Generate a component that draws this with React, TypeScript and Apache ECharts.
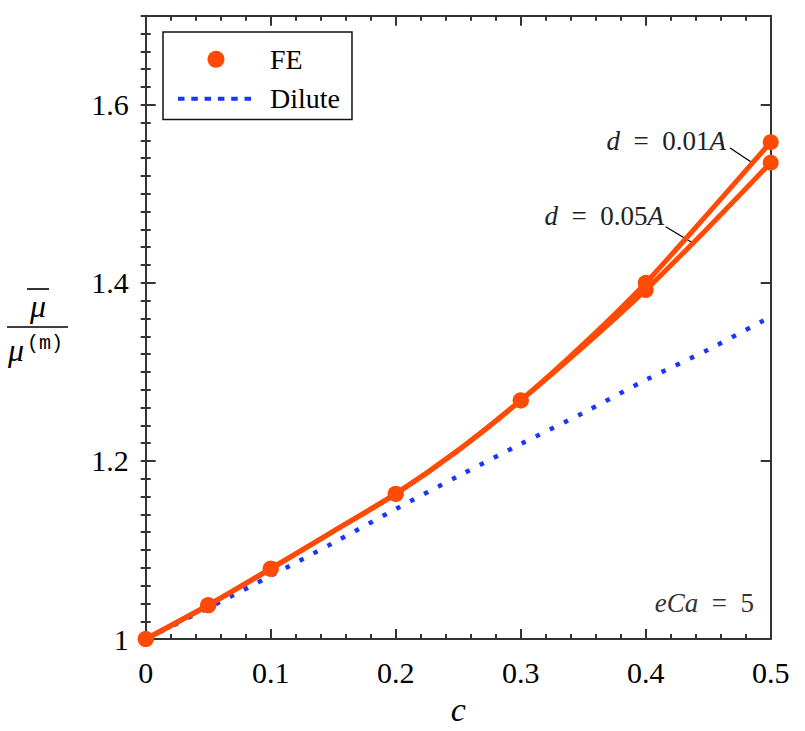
import React, { useEffect, useRef } from 'react';
import * as echarts from 'echarts';

// ---- data ----
// FE computed points (markers)
const feConc = [0, 0.05, 0.1, 0.2, 0.3, 0.4, 0.5];
const feD001 = [1.0, 1.038, 1.079, 1.163, 1.268, 1.4, 1.558]; // d = 0.01A
const feD005 = [1.0, 1.038, 1.079, 1.163, 1.268, 1.392, 1.535]; // d = 0.05A
// FE fitted curves
const curveConc = [0, 0.05, 0.1, 0.15, 0.2, 0.25, 0.3, 0.35, 0.4, 0.45, 0.5];
const curveD001 = [1.0, 1.038, 1.079, 1.121, 1.163, 1.212, 1.268, 1.331, 1.4, 1.478, 1.558];
const curveD005 = [1.0, 1.038, 1.079, 1.121, 1.163, 1.212, 1.268, 1.328, 1.392, 1.462, 1.535];
// Dilute approximation
const diluteConc = [0, 0.05, 0.1, 0.15, 0.2, 0.25, 0.3, 0.35, 0.4, 0.45, 0.5];
const diluteVals = [1.0, 1.035, 1.071, 1.108, 1.146, 1.183, 1.219, 1.254, 1.291, 1.325, 1.362];
// tick labels
const xTickValues = [0, 0.1, 0.2, 0.3, 0.4, 0.5];
const xTickLabels = ['0', '0.1', '0.2', '0.3', '0.4', '0.5'];
const yTickValues = [1, 1.2, 1.4, 1.6];
const yTickLabels = ['1', '1.2', '1.4', '1.6'];

const SERIF = '"Liberation Serif", "Times New Roman", serif';
const ORANGE = '#ff4b05';
const BLUE = '#1a35ff';
const AXIS = '#333333';

function labelFor(values: number[], labels: string[]) {
  return (v: number) => {
    for (let i = 0; i < values.length; i++) {
      if (Math.abs(values[i] - v) < 1e-6) return labels[i];
    }
    return '';
  };
}

export default function App() {
  const ref = useRef<HTMLDivElement>(null);

  useEffect(() => {
    if (!ref.current) return;
    const chart = echarts.init(ref.current, undefined, { renderer: 'svg' });
    const lineStyle = { color: AXIS, width: 2 };

    const xBase = {
      type: 'value' as const,
      min: 0,
      max: 0.5,
      interval: 0.1,
      axisLine: { show: true, onZero: false, lineStyle },
      axisTick: { show: true, inside: true, length: 10, lineStyle },
      minorTick: { show: true, splitNumber: 5, length: 5, lineStyle },
      splitLine: { show: false },
    };
    const yMajor = {
      type: 'value' as const,
      min: 1,
      max: 1.7,
      interval: 0.2,
      axisLine: { show: true, onZero: false, lineStyle },
      axisTick: { show: true, inside: true, length: 10, lineStyle },
      splitLine: { show: false },
    };
    const yMinor = {
      type: 'value' as const,
      min: 1,
      max: 1.7,
      interval: 0.02,
      axisLine: { show: false },
      axisTick: { show: true, inside: true, length: 5, lineStyle },
      axisLabel: { show: false },
      splitLine: { show: false },
    };

    const curve = (name: string, xs: number[], ys: number[]) => ({
      name,
      type: 'line',
      xAxisIndex: 0,
      yAxisIndex: 0,
      data: xs.map((c, i) => [c, ys[i]]),
      symbol: 'none',
      smooth: 0.25,
      lineStyle: { color: ORANGE, width: 5 },
      itemStyle: { color: ORANGE },
      z: 3,
    });
    const markers = (xs: number[], ys: number[]) => ({
      name: 'FE',
      type: 'scatter',
      xAxisIndex: 0,
      yAxisIndex: 0,
      data: xs.map((c, i) => [c, ys[i]]),
      symbol: 'circle',
      symbolSize: 16,
      itemStyle: { color: ORANGE, opacity: 1 },
      z: 4,
    });

    const option: any = {
      animation: false,
      backgroundColor: '#fff',
      grid: { left: 145.7, right: 34.3, top: 15.7, bottom: 90.7, containLabel: false },
      xAxis: [
        {
          ...xBase,
          position: 'bottom',
          axisLabel: {
            show: true,
            margin: 18,
            fontSize: 30,
            fontFamily: SERIF,
            color: '#000',
            formatter: labelFor(xTickValues, xTickLabels),
          },
          name: 'c',
          nameLocation: 'middle',
          nameGap: 52,
          nameTextStyle: { fontSize: 34, fontStyle: 'italic', fontFamily: SERIF, color: '#000' },
        },
        { ...xBase, position: 'top', axisLabel: { show: false } },
      ],
      yAxis: [
        {
          ...yMajor,
          position: 'left',
          axisLabel: {
            show: true,
            margin: 17,
            fontSize: 30,
            fontFamily: SERIF,
            color: '#000',
            formatter: labelFor(yTickValues, yTickLabels),
          },
        },
        { ...yMinor, position: 'left' },
        { ...yMajor, position: 'right', axisLabel: { show: false } },
        { ...yMinor, position: 'right' },
      ],
      legend: {
        orient: 'vertical',
        left: 163,
        top: 32,
        itemWidth: 76,
        itemHeight: 17,
        itemGap: 11.5,
        padding: [13.3, 12, 6.6, 13],
        borderColor: '#111',
        borderWidth: 1.5,
        borderRadius: 0,
        backgroundColor: '#fff',
        selectedMode: false,
        textStyle: {
          fontFamily: SERIF,
          fontSize: 28,
          color: '#000',
          padding: [0, 0, 0, 11],
        },
        data: [
          { name: 'FE', icon: 'circle', itemStyle: { color: ORANGE } },
          {
            name: 'Dilute',
            itemStyle: { opacity: 0 },
            lineStyle: { color: BLUE, width: 4, type: [6.5, 6.8] },
          },
        ],
      },
      series: [
        {
          name: 'Dilute',
          type: 'line',
          xAxisIndex: 0,
          yAxisIndex: 0,
          data: diluteConc.map((c, i) => [c, diluteVals[i]]),
          symbol: 'none',
          smooth: 0.3,
          lineStyle: { color: BLUE, width: 4.5, type: [4.5, 11.2], cap: 'butt' },
          itemStyle: { color: BLUE },
          z: 2,
        },
        curve('d = 0.05A', curveConc, curveD005),
        curve('d = 0.01A', curveConc, curveD001),
        markers(feConc, feD001),
        markers(feConc, feD005),
      ],
      graphic: [
        // y-axis name: fraction mu-bar / mu^(m)
        {
          type: 'text',
          style: {
            text: 'μ',
            x: 38,
            y: 306,
            align: 'center',
            verticalAlign: 'middle',
            font: `italic 32px ${SERIF}`,
            fill: '#000',
          },
        },
        { type: 'line', shape: { x1: 27, y1: 289, x2: 49, y2: 289 }, style: { stroke: '#000', lineWidth: 1.6 } },
        { type: 'line', shape: { x1: 7, y1: 327, x2: 68, y2: 327 }, style: { stroke: '#000', lineWidth: 1.6 } },
        {
          type: 'text',
          style: {
            text: 'μ',
            x: 16,
            y: 350,
            align: 'center',
            verticalAlign: 'middle',
            font: `italic 32px ${SERIF}`,
            fill: '#000',
          },
        },
        {
          type: 'text',
          style: {
            text: '(m)',
            x: 45,
            y: 343,
            align: 'center',
            verticalAlign: 'middle',
            font: `20px "Liberation Mono", "DejaVu Sans Mono", monospace`,
            fill: '#000',
          },
        },
        // annotations
        {
          type: 'text',
          style: {
            text: '{i|d}{n|  =  0.01}{i|A}',
            x: 726,
            y: 141,
            align: 'right',
            verticalAlign: 'middle',
            fill: '#222',
            rich: {
              i: { fontFamily: SERIF, fontStyle: 'italic', fontSize: 27, fill: '#222' },
              n: { fontFamily: SERIF, fontSize: 27, fill: '#222' },
            },
          },
        },
        { type: 'line', shape: { x1: 730, y1: 148, x2: 752.3, y2: 162.7 }, style: { stroke: '#000', lineWidth: 1.3 } },
        {
          type: 'text',
          style: {
            text: '{i|d}{n|  =  0.05}{i|A}',
            x: 664,
            y: 216,
            align: 'right',
            verticalAlign: 'middle',
            fill: '#222',
            rich: {
              i: { fontFamily: SERIF, fontStyle: 'italic', fontSize: 27, fill: '#222' },
              n: { fontFamily: SERIF, fontSize: 27, fill: '#222' },
            },
          },
        },
        { type: 'line', shape: { x1: 665.7, y1: 226.7, x2: 693.3, y2: 243.3 }, style: { stroke: '#000', lineWidth: 1.3 } },
        {
          type: 'text',
          style: {
            text: '{i|eCa}{n|  =  5}',
            x: 754,
            y: 603,
            align: 'right',
            verticalAlign: 'middle',
            fill: '#333',
            rich: {
              i: { fontFamily: SERIF, fontStyle: 'italic', fontSize: 27, fill: '#333' },
              n: { fontFamily: SERIF, fontSize: 27, fill: '#333' },
            },
          },
        },
      ],
    };

    chart.setOption(option);
    return () => {
      chart.dispose();
    };
  }, []);

  return (
    <div
      ref={ref}
      style={{ position: 'fixed', left: 0, top: 0, width: 805, height: 731, background: '#fff' }}
    />
  );
}
